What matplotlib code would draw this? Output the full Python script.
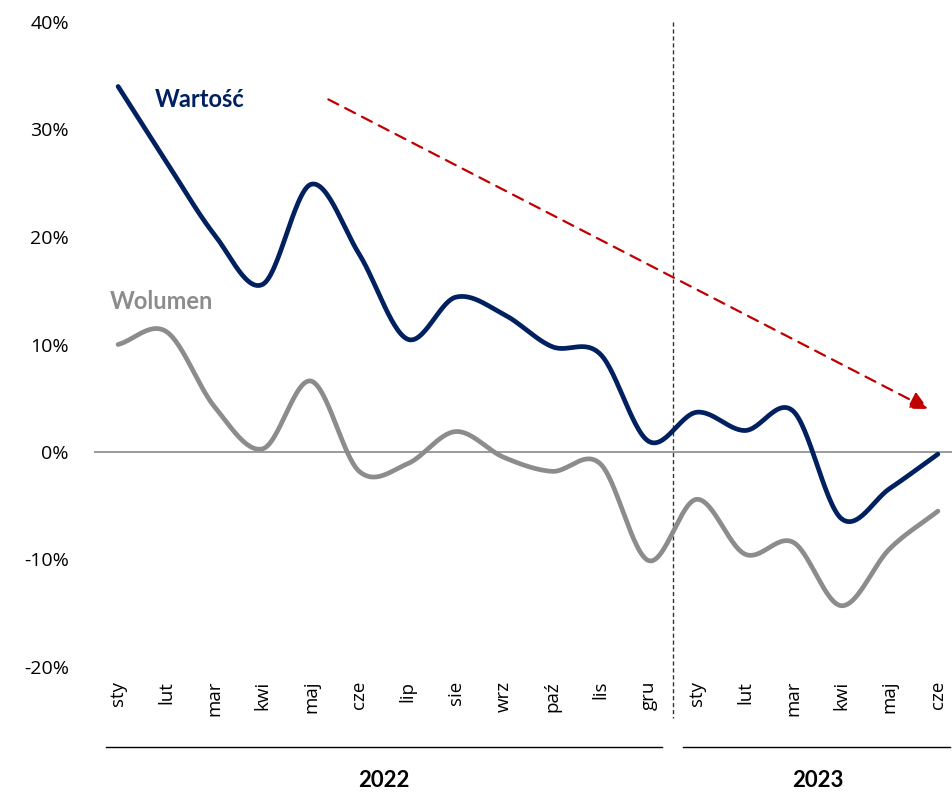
import numpy as np
import matplotlib
matplotlib.use("Agg")
import matplotlib.pyplot as plt

months = ["sty", "lut", "mar", "kwi", "maj", "cze", "lip", "sie", "wrz", "paź", "lis", "gru",
          "sty", "lut", "mar", "kwi", "maj", "cze"]
wartosc = [34.0, 27.0, 20.2, 15.6, 24.9, 18.4, 10.5, 14.4, 12.8, 9.8, 9.1, 1.0,
           3.7, 2.0, 3.8, -6.2, -3.4, -0.2]
wolumen = [10.0, 11.2, 4.2, 0.3, 6.6, -1.8, -1.1, 1.9, -0.5, -1.8, -1.1, -10.1,
           -4.4, -9.5, -8.4, -14.3, -9.0, -5.5]
years = ["2022", "2023"]
yticks = [-20, -10, 0, 10, 20, 30, 40]

NAVY = "#002060"
GRAY = "#8C8C8C"
RED = "#C00000"


def smooth(y, n=30):
    """Catmull-Rom drawing curve through the given points (Excel-like smoothed line)."""
    y = np.asarray(y, float)
    x = np.arange(len(y), dtype=float)
    px = np.concatenate([[2 * x[0] - x[1]], x, [2 * x[-1] - x[-2]]])
    py = np.concatenate([[2 * y[0] - y[1]], y, [2 * y[-1] - y[-2]]])
    xs, ys = [], []
    t = np.linspace(0, 1, n, endpoint=False)
    for i in range(1, len(px) - 2):
        def cr(a0, a1, a2, a3):
            return 0.5 * ((2 * a1) + (-a0 + a2) * t + (2 * a0 - 5 * a1 + 4 * a2 - a3) * t ** 2
                          + (-a0 + 3 * a1 - 3 * a2 + a3) * t ** 3)
        xs.append(cr(px[i - 1], px[i], px[i + 1], px[i + 2]))
        ys.append(cr(py[i - 1], py[i], py[i + 1], py[i + 2]))
    xs.append([x[-1]])
    ys.append([y[-1]])
    return np.concatenate(xs), np.concatenate(ys)


W, H = 953, 794
fig = plt.figure(figsize=(W / 100, H / 100), dpi=100)
left, right, top, bottom = 94, 962, 22, 667
ax = fig.add_axes([left / W, 1 - bottom / H, (right - left) / W, (bottom - top) / H])
ax.set_xlim(-0.5, len(months) - 0.5)
ax.set_ylim(-20, 40)

ax.axhline(0, color="#808080", lw=1.1, zorder=1)

xw, yw = smooth(wolumen)
ax.plot(xw, yw, color=GRAY, lw=3.4, solid_capstyle="round", zorder=3)
xv, yv = smooth(wartosc)
ax.plot(xv, yv, color=NAVY, lw=3.4, solid_capstyle="round", zorder=4)

# vertical dashed separator between years
ax.plot([11.5, 11.5], [40, -24.7], color="#333333", lw=1.0, ls=(0, (3, 2)),
        clip_on=False, zorder=2)

# red trend arrow
ax.annotate("", xy=(16.80, 4.0), xytext=(4.36, 32.8),
            arrowprops=dict(arrowstyle="-|>,head_length=1.1,head_width=0.55", color=RED,
                            lw=1.6, ls=(0, (5, 3.5)), shrinkA=0, shrinkB=0), zorder=5)

ax.text(0.77, 32.8, "Wartość", color=NAVY, fontsize=17, fontweight="bold",
        family="Lato", ha="left", va="center")
ax.text(-0.17, 14.0, "Wolumen", color=GRAY, fontsize=17, fontweight="bold",
        family="Lato", ha="left", va="center")

ax.set_yticks(yticks)
ax.set_yticklabels([f"{v}%" for v in yticks], family="Open Sans", fontsize=14)
ax.set_xticks(range(len(months)))
ax.set_xticklabels(months, rotation=90, family="Open Sans", fontsize=13.5, va="top")
ax.tick_params(axis="y", length=0, pad=18)
ax.tick_params(axis="x", length=0, pad=10)
for s in ax.spines.values():
    s.set_visible(False)

# year brackets
ax.plot([-0.25, 11.28], [-27.4, -27.4], color="black", lw=1.0, clip_on=False)
ax.plot([11.72, 17.26], [-27.4, -27.4], color="black", lw=1.0, clip_on=False)
ax.text(5.5, -30.6, years[0], ha="center", va="center", fontsize=16, fontweight="bold",
        family="Lato")
ax.text(14.5, -30.6, years[1], ha="center", va="center", fontsize=16, fontweight="bold",
        family="Lato")

fig.savefig("out.png", dpi=100)
